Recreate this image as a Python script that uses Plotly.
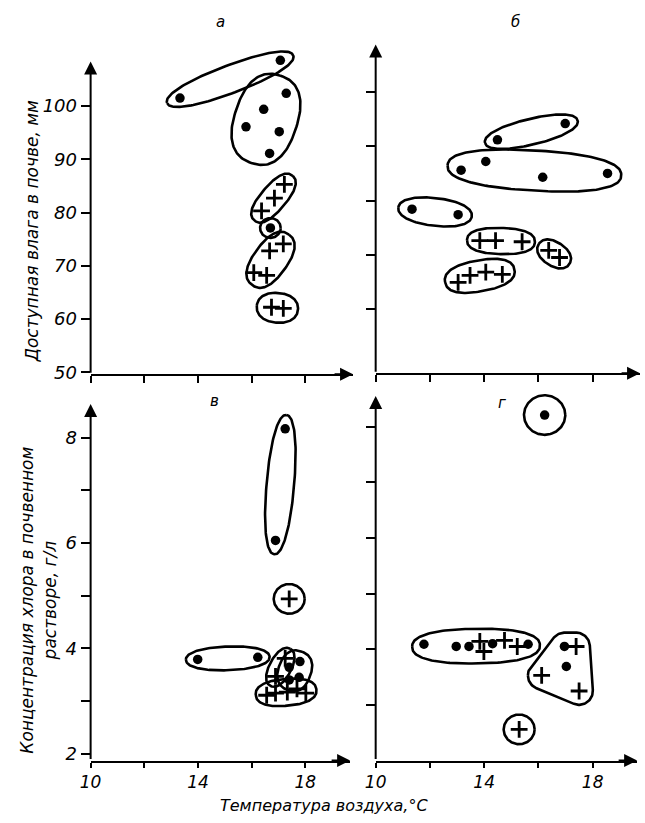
import numpy as np
import plotly.graph_objects as go

# ---------------- data ----------------
# Panel а: air temperature (°C) vs available soil moisture (mm)
a_x = [13.33, 17.07, 17.29, 16.45, 15.79, 17.03, 16.67, 17.22, 16.85, 16.37, 16.70,
       17.18, 16.67, 16.08, 16.56, 16.74, 17.18]
a_y = [101.5, 108.6, 102.4, 99.4, 96.1, 95.2, 91.1, 85.3, 82.7, 80.3, 77.1,
       74.1, 72.8, 68.7, 68.2, 62.2, 62.0]
a_kind = ['dot'] * 7 + ['plus'] * 3 + ['dot'] + ['plus'] * 6
a_group = [1, 1, 2, 2, 2, 2, 2, 3, 3, 3, 4, 5, 5, 5, 5, 6, 6]

# Panel б
b_x = [14.49, 16.99, 13.15, 14.06, 16.16, 18.55, 11.34, 13.04,
       13.84, 14.42, 15.40, 16.38, 16.78, 13.04, 13.48, 14.06, 14.67]
b_y = [91.2, 94.2, 85.6, 87.2, 84.3, 85.0, 78.4, 77.4,
       72.6, 72.6, 72.4, 70.8, 69.5, 64.9, 66.2, 66.8, 66.4]
b_kind = ['dot'] * 8 + ['plus'] * 9
b_group = [1, 1, 2, 2, 2, 2, 3, 3, 4, 4, 4, 5, 5, 6, 6, 6, 6]

# Panel в: air temperature vs chloride concentration (g/l)
c_x = [17.25, 16.89, 17.40, 13.99, 16.23, 17.25, 16.89, 17.40, 17.40, 17.80, 17.77,
       16.56, 16.89, 17.33, 17.69, 18.02]
c_y = [8.17, 6.05, 4.94, 3.79, 3.83, 3.81, 3.47, 3.64, 3.40, 3.75, 3.45,
       3.11, 3.15, 3.17, 3.23, 3.15]
c_kind = ['dot', 'dot', 'plus', 'dot', 'dot', 'plus', 'plus', 'dot', 'dot', 'dot', 'dot',
          'plus', 'plus', 'plus', 'plus', 'plus']
c_group = [1, 1, 2, 3, 3, 4, 4, 5, 5, 5, 5, 6, 6, 6, 6, 6]

# Panel г
d_x = [16.23, 11.78, 12.97, 13.44, 13.84, 13.99, 14.31, 14.75, 15.22, 15.62,
       16.96, 17.39, 17.03, 16.12, 17.50, 15.29]
d_y = [8.21, 4.09, 4.05, 4.05, 4.14, 3.96, 4.10, 4.16, 4.05, 4.09,
       4.05, 4.05, 3.69, 3.53, 3.25, 2.56]
d_kind = ['dot', 'dot', 'dot', 'dot', 'plus', 'plus', 'dot', 'plus', 'plus', 'dot',
          'dot', 'plus', 'dot', 'plus', 'plus', 'plus']
d_group = [1, 2, 2, 2, 2, 2, 2, 2, 2, 2, 3, 3, 3, 3, 3, 4]

x_ticks = [10, 12, 14, 16, 18]
x_ticktext = ['10', '', '14', '', '18']
y_ticks_top = [50, 60, 70, 80, 90, 100]
y_ticks_bot = [2, 3, 4, 5, 6, 7, 8]
y_ticktext_bot = ['2', '', '4', '', '6', '', '8']

# ---------------- layout / style ----------------
W, H = 645, 823
FONT = "DejaVu Sans"

# px: left/right pixel of x axis; py: bottom pixel, arrow-tip pixel, domain-top pixel
# pad: outline padding (px) per group; shape: 's' rounded superellipse, 'h' rounded hull
panels = {
    'a': dict(px=(81, 348), py=(378, 62, 30), xr=(10, 19.78), yr=(49.6, 108.4),
              pad=[14, 15, 12, 10, 11, 15], shape='ssssss'),
    'b': dict(px=(371, 640), py=(377, 45, 20), xr=(10, 19.75), yr=(48.13, 108.77),
              pad=[13, 14, 14, 13, 12, 13], shape='ssssss'),
    'c': dict(px=(81, 345), py=(768, 408, 395), xr=(10, 19.67), yr=(1.87, 8.64),
              pad=[14, 15, 12, 11, 10, 11], shape='ssssss'),
    'd': dict(px=(371, 637), py=(768, 400, 390), xr=(10, 19.64), yr=(2.0, 8.55),
              pad=[20, 12, 14, 15], shape='sshs'),
}
data = {
    'a': (a_x, a_y, a_kind, a_group),
    'b': (b_x, b_y, b_kind, b_group),
    'c': (c_x, c_y, c_kind, c_group),
    'd': (d_x, d_y, d_kind, d_group),
}
keys = ['a', 'b', 'c', 'd']


def scales(P):
    sx = (P['px'][1] - P['px'][0]) / (P['xr'][1] - P['xr'][0])
    sy = (P['py'][0] - P['py'][1]) / (P['yr'][1] - P['yr'][0])
    return sx, sy


def convex_hull(points):
    pts = sorted(set(points))
    if len(pts) <= 2:
        return pts

    def cross(o, a, b):
        return (a[0] - o[0]) * (b[1] - o[1]) - (a[1] - o[1]) * (b[0] - o[0])
    lower = []
    for p in pts:
        while len(lower) >= 2 and cross(lower[-2], lower[-1], p) <= 0:
            lower.pop()
        lower.append(p)
    upper = []
    for p in reversed(pts):
        while len(upper) >= 2 and cross(upper[-2], upper[-1], p) <= 0:
            upper.pop()
        upper.append(p)
    return lower[:-1] + upper[:-1]


def outline(xs, ys, P, r, kind):
    """Outline around a group of points, computed in screen pixels."""
    sx, sy = scales(P)
    X = np.array(xs, float) * sx
    Y = np.array(ys, float) * sy
    if kind == 'h' and len(xs) >= 3:
        samples = []
        tt = np.linspace(0, 2 * np.pi, 90, endpoint=False)
        for x, y in zip(X, Y):
            for a in tt:
                samples.append((round(x + r * np.cos(a), 4), round(y + r * np.sin(a), 4)))
        hull = convex_hull(samples)
        hull.append(hull[0])
        return [p[0] / sx for p in hull], [p[1] / sy for p in hull]
    if len(xs) >= 2:
        M = np.vstack([X - X.mean(), Y - Y.mean()])
        w, v = np.linalg.eigh(M @ M.T)
        ux, uy = v[:, np.argmax(w)]
    else:
        ux, uy = 1.0, 0.0
    pu = X * ux + Y * uy
    pv = -X * uy + Y * ux
    cu, cv = (pu.max() + pu.min()) / 2, (pv.max() + pv.min()) / 2
    a0 = (pu.max() - pu.min()) / 2
    b0 = (pv.max() - pv.min()) / 2
    if len(xs) == 1:
        p = 2.0
        A, B = r * 1.05, r
    else:
        p = 2.4 if len(xs) > 2 else 2.2
        A, B = a0 + r, b0 + r
        val = np.max(np.abs((pu - cu) / A) ** p + np.abs((pv - cv) / B) ** p)
        if val > 0.75:
            k = (val / 0.75) ** (1 / p)
            A, B = A * k, B * k
    t = np.linspace(0, 2 * np.pi, 161)
    cu_t = A * np.sign(np.cos(t)) * np.abs(np.cos(t)) ** (2 / p)
    cv_t = B * np.sign(np.sin(t)) * np.abs(np.sin(t)) ** (2 / p)
    U, V = cu + cu_t, cv + cv_t
    ex = U * ux - V * uy
    ey = U * uy + V * ux
    return list(ex / sx), list(ey / sy)


fig = go.Figure()

for i, key in enumerate(keys):
    xs, ys, kinds, groups = data[key]
    P = panels[key]
    n = '' if i == 0 else str(i + 1)
    xa, ya = 'x' + n, 'y' + n
    for gi, g in enumerate(sorted(set(groups))):
        gx = [x for x, gg in zip(xs, groups) if gg == g]
        gy = [y for y, gg in zip(ys, groups) if gg == g]
        hx, hy = outline(gx, gy, P, P['pad'][gi], P['shape'][gi])
        fig.add_trace(go.Scatter(x=hx, y=hy, mode='lines', xaxis=xa, yaxis=ya,
                                 line=dict(color='black', width=2.6),
                                 hoverinfo='skip', showlegend=False))
    dx = [x for x, k in zip(xs, kinds) if k == 'dot']
    dy = [y for y, k in zip(ys, kinds) if k == 'dot']
    fig.add_trace(go.Scatter(x=dx, y=dy, mode='markers', xaxis=xa, yaxis=ya,
                             marker=dict(symbol='circle', size=9.5, color='black'),
                             showlegend=False, cliponaxis=False))
    qx = [x for x, k in zip(xs, kinds) if k == 'plus']
    qy = [y for y, k in zip(ys, kinds) if k == 'plus']
    fig.add_trace(go.Scatter(x=qx, y=qy, mode='markers', xaxis=xa, yaxis=ya,
                             marker=dict(symbol='cross-thin', size=12, color='black',
                                         line=dict(color='black', width=2.8)),
                             showlegend=False, cliponaxis=False))

tickfont = dict(family=FONT, size=18, color='black', style='italic')
common = dict(showgrid=False, zeroline=False, ticks='outside', tickcolor='black',
              tickwidth=2, tickfont=tickfont)

layout_axes = {}
annotations = []
for i, key in enumerate(keys):
    P = panels[key]
    n = '' if i == 0 else str(i + 1)
    sx, sy = scales(P)
    y_top_ext = P['yr'][1] + (P['py'][1] - P['py'][2]) / sy
    xa_cfg = dict(common, domain=[P['px'][0] / W, P['px'][1] / W], range=list(P['xr']),
                  anchor='y' + n, tickvals=x_ticks, ticklen=7, showline=True,
                  linecolor='black', linewidth=2)
    ya_cfg = dict(common, domain=[1 - P['py'][0] / H, 1 - P['py'][2] / H],
                  range=[P['yr'][0], y_top_ext], anchor='x' + n, ticklen=9, showline=False)
    if key in ('a', 'b'):
        xa_cfg.update(showticklabels=False)
        ya_cfg.update(tickvals=y_ticks_top if key == 'a' else y_ticks_top[1:])
        if key == 'b':
            ya_cfg.update(showticklabels=False)
    else:
        xa_cfg.update(ticktext=x_ticktext, ticklen=5,
                      tickfont=dict(tickfont, size=17))
        if key == 'c':
            ya_cfg.update(tickvals=y_ticks_bot, ticktext=y_ticktext_bot)
        else:
            ya_cfg.update(tickvals=y_ticks_bot[1:], showticklabels=False)
    layout_axes['xaxis' + n] = xa_cfg
    layout_axes['yaxis' + n] = ya_cfg
    annotations.append(dict(x=P['xr'][0], y=P['yr'][1], xref='x' + n, yref='y' + n,
                            ax=P['xr'][0], ay=P['yr'][0], axref='x' + n, ayref='y' + n,
                            text='', showarrow=True, arrowhead=2, arrowsize=1.3,
                            arrowwidth=2, arrowcolor='black'))
    annotations.append(dict(x=1, y=0, xref='x' + n + ' domain', yref='y' + n + ' domain',
                            ax=-20, ay=0, axref='pixel', ayref='pixel', text='', showarrow=True,
                            arrowhead=2, arrowsize=1.3, arrowwidth=2, arrowcolor='black'))

lab_font = dict(family=FONT, size=15, color='black', style='italic')
for txt, px, py in [('а', 213, 22), ('б', 513, 22), ('в', 207, 405), ('г', 500, 407)]:
    annotations.append(dict(x=px / W, y=1 - py / H, xref='paper', yref='paper', text=txt,
                            showarrow=False, font=lab_font, xanchor='center', yanchor='middle'))

title_font = dict(family=FONT, size=17, color='black', style='italic')
annotations.append(dict(x=21 / W, y=1 - 234 / H, xref='paper', yref='paper',
                        text='Доступная влага в почве, мм', textangle=-90, showarrow=False,
                        font=title_font, xanchor='center', yanchor='middle'))
annotations.append(dict(x=28 / W, y=1 - 606 / H, xref='paper', yref='paper',
                        text='Концентрация хлора в почвенном<br>растворе, г/л', textangle=-90,
                        showarrow=False, font=title_font, xanchor='center', yanchor='middle'))
annotations.append(dict(x=318 / W, y=1 - 813 / H, xref='paper', yref='paper',
                        text='Температура воздуха,°С', showarrow=False,
                        font=dict(title_font, size=16),
                        xanchor='center', yanchor='middle'))

fig.update_layout(width=W, height=H, autosize=False,
                  margin=dict(l=0, r=0, t=0, b=0),
                  paper_bgcolor='white', plot_bgcolor='white',
                  annotations=annotations, **layout_axes)

fig.write_html("out.html", config={'displayModeBar': False},
               post_script="document.body.style.margin='0';document.body.style.padding='0';")
